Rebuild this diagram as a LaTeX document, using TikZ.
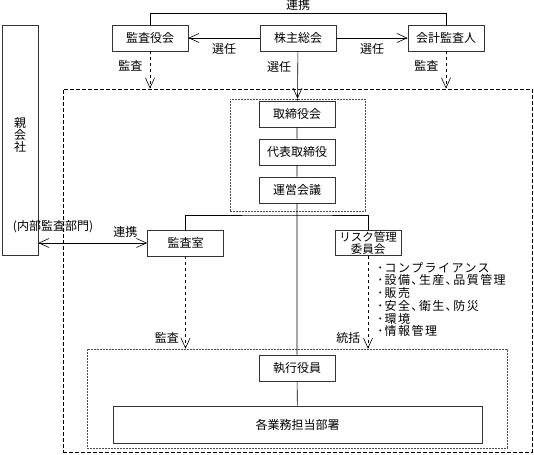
\documentclass[tikz,border=0pt]{standalone}
\usepackage{fontspec}
\setmainfont{Noto Sans CJK JP}
\newfontfamily\listfont[LetterSpace=12]{Noto Sans CJK JP}
\usetikzlibrary{arrows.meta}

\begin{document}
\begin{tikzpicture}[x=1pt,y=-1pt,line width=0.6pt,
        font=\fontsize{12}{14}\selectfont,
        >={Straight Barb[length=10pt,width=9pt]},
        box/.style={draw,black!80,text=black,minimum width=76pt,minimum height=26pt,inner sep=1pt},
        area/.style={draw,dash pattern=on 4pt off 2pt,line width=0.8pt},
        group/.style={draw,black!70,dash pattern=on 2pt off 1pt,line width=0.5pt}]
    \useasboundingbox (0,0) rectangle (534,454);

    % top level
    \node[box] (kansayakkai) at (150,38) {監査役会};
    \node[box] (kabunushi) at (298,38) {株主総会};
    \node[box] (kaikei) at (446,38) {会計監査人};
    \node[box,minimum width=36pt,minimum height=230pt] (oya) at (20,140) {};
    \node[align=center,font=\fontsize{12}{12}\selectfont] (oyaname) at (20,134.5) {親\\会\\社};
    \node (naibu) at (53,227) {(内部監査部門)};

    % company
    \node[area,minimum width=469pt,minimum height=363pt] (kaisha) at (297.5,270.5) {};
    \node[group,minimum width=135pt,minimum height=112pt] (keiei) at (297.5,155) {};
    \node[box] (torishimari) at (297,114) {取締役会};
    \node[box] (daihyo) at (297,152) {代表取締役};
    \node[box] (unei) at (297,190) {運営会議};
    \node[box] (kansashitsu) at (185.5,243) {監査室};
    \node[box,minimum width=66pt,minimum height=25pt,align=center,font=\fontsize{11.5}{12}\selectfont] (risk) at (368,243) {リスク管理\\委員会};
    \node[align=left,anchor=north west,inner sep=0pt,font=\listfont\fontsize{12}{12.7}\selectfont] (risklist) at (377,262) {･コンプライアンス\\･設備､生産､品質管理\\･販売\\･安全､衛生､防災\\･環境\\･情報管理};
    \node[group,minimum width=420pt,minimum height=99pt] (gyomu) at (297,398.5) {};
    \node[box] (shikkou) at (297,368) {執行役員};
    \node[box,minimum width=369pt,minimum height=37pt] (kakugyomu) at (297.5,424.5) {各業務担当部署};
    \coordinate (bus) at (297,215);

    \draw (kansayakkai.north) -- ++(0,-11) -| node[pos=0.25,above] {連携} (kaikei.north);
    \draw[->] (kabunushi) -- node[below=2pt] {選任} (kansayakkai);
    \draw[->] (kabunushi) -- node[below=2pt] {選任} (kaikei);
    \draw[->] (kabunushi) -- node[left=3pt,pos=0.33] {選任} (keiei.north);
    \draw[->,dashed] (kansayakkai.south) -- node[left=4pt,pos=0.4] {監査} (kansayakkai.south |- kaisha.north);
    \draw[->,dashed] (kaikei.south) -- node[left=4pt,pos=0.4] {監査} (kaikei.south |- kaisha.north);
    \draw (keiei.north) -- (torishimari) -- (daihyo) -- (unei) -- (shikkou) -- (kakugyomu);
    \draw (kansashitsu.north) |- (bus) -| (risk.north);
    \draw[<->] (oya.east |- kansashitsu.west) -- node[above=2pt,pos=0.8] {連携} (kansashitsu.west);
    \draw[->,dashed] (kansashitsu.south) -- node[left=3pt,pos=0.88] {監査} (kansashitsu.south |- gyomu.north);
    \draw[->,dashed] (risk.south) -- node[left=4pt,pos=0.88] {統括} (risk.south |- gyomu.north);
\end{tikzpicture}
\end{document}
